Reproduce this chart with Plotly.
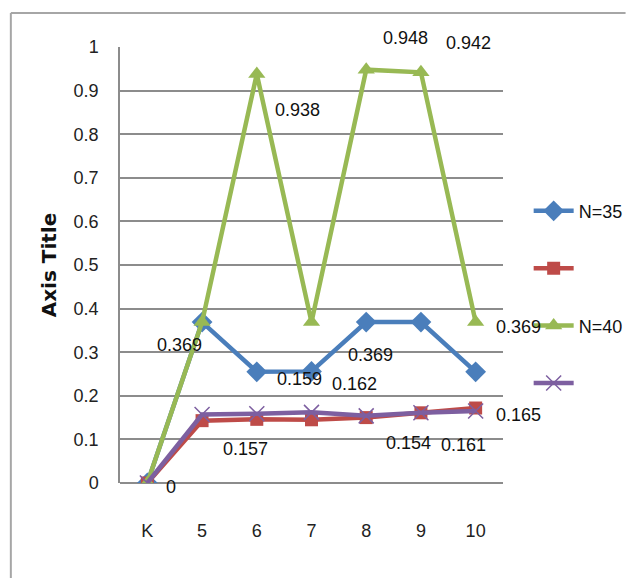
import plotly.graph_objects as go

categories = ["K", "5", "6", "7", "8", "9", "10"]
n35 = [0, 0.369, 0.255, 0.256, 0.369, 0.369, 0.255]
red_series = [0, 0.143, 0.146, 0.145, 0.150, 0.161, 0.172]
n40 = [0, 0.369, 0.938, 0.369, 0.948, 0.942, 0.369]
purple_series = [0, 0.157, 0.159, 0.162, 0.154, 0.161, 0.165]
y_ticks = [0, 0.1, 0.2, 0.3, 0.4, 0.5, 0.6, 0.7, 0.8, 0.9, 1]

# label offsets (pixels) for data labels
n40_label_dx = [24, -23, 41, 59, 39, 48, 43]
n40_label_dy = [-4, -23, -36, -33, 32, 29, -5]
pur_label_dx = [None, 43, 43, 43, 42, 43, 43]
pur_label_dy = [None, -34, 35, 28, -27, -32, -4]

FONT = "Liberation Sans, Arial, sans-serif"
FS = 18

fig = go.Figure()
series = [
    ("N=35", n35, "#4A7EBB", dict(symbol="diamond", size=16)),
    ("", red_series, "#BE4B48", dict(symbol="square", size=13)),
    ("N=40", n40, "#98B954", dict(symbol="triangle-up", size=15)),
    ("", purple_series, "#7D5FA0", dict(symbol="x-thin", size=15)),
]
for i, (name, vals, col, mk) in enumerate(series):
    m = dict(color=col, **mk)
    if mk["symbol"] == "x-thin":
        m["line"] = dict(color=col, width=1.5)
    fig.add_trace(go.Scatter(
        x=categories, y=vals, name=name, mode="lines+markers",
        line=dict(color=col, width=4.5), marker=m,
        legendgroup=f"g{i}", showlegend=True,
    ))

anns = []
for i, c in enumerate(categories):
    anns.append(dict(x=i, y=n40[i], text=f"{n40[i]:g}", showarrow=False,
                     xshift=n40_label_dx[i], yshift=n40_label_dy[i],
                     font=dict(family=FONT, size=FS, color="#111")))
    if pur_label_dx[i] is not None:
        anns.append(dict(x=i, y=purple_series[i], text=f"{purple_series[i]:.3f}", showarrow=False,
                         xshift=pur_label_dx[i], yshift=pur_label_dy[i],
                         font=dict(family=FONT, size=FS, color="#111")))

frame = dict(color="#a6a6a6", width=2)
fig.update_layout(
    width=632, height=578,
    margin=dict(l=120, r=129, t=47, b=95, autoexpand=False),
    paper_bgcolor="white", plot_bgcolor="white",
    font=dict(family=FONT, size=FS, color="#222"),
    annotations=anns,
    legend=dict(x=1.067, y=0.666, xanchor="left", yanchor="top",
                tracegroupgap=31, itemwidth=40,
                font=dict(family=FONT, size=FS, color="#111"),
                bgcolor="rgba(0,0,0,0)"),
    shapes=[
        dict(type="line", xref="paper", yref="paper",
             x0=-0.285, x1=1.32, y0=1.078, y1=1.078, line=frame, layer="below"),
        dict(type="line", xref="paper", yref="paper",
             x0=-0.285, x1=-0.285, y0=1.078, y1=-0.22, line=frame, layer="below"),
    ],
)
fig.update_xaxes(type="category", range=[-0.5, 6.5], autorange=False, automargin=False,
                 showgrid=False, showline=False, ticks="",
                 ticklabelstandoff=35, tickfont=dict(size=FS))
fig.update_yaxes(range=[0, 1], autorange=False, automargin=False,
                 tickvals=y_ticks, ticktext=[f"{v:g}" for v in y_ticks],
                 showgrid=True, gridcolor="#8c8c8c", gridwidth=1.5,
                 showline=True, linecolor="#8c8c8c", linewidth=1.5,
                 zeroline=True, zerolinecolor="#8c8c8c", zerolinewidth=1.5,
                 ticks="", ticklabelstandoff=16, tickfont=dict(size=FS),
                 title=dict(text="<b>Axis Title</b>", standoff=12,
                            font=dict(family="DejaVu Sans", size=20, color="#111")))

fig.write_html("out.html", config={"displayModeBar": False},
               post_script="document.body.style.margin='0';")
